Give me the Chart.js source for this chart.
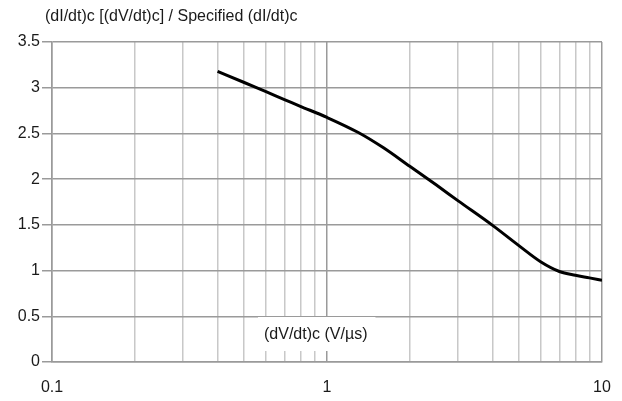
<!DOCTYPE html>
<html>
<head>
<meta charset="utf-8">
<script src="https://cdn.jsdelivr.net/npm/chart.js@4/dist/chart.umd.min.js"></script>
<style>
  html, body { margin: 0; padding: 0; background: #fff; }
  #wrap { width: 622px; height: 401px; }
</style>
</head>
<body>
<div id="wrap"><canvas id="chart" width="622" height="401"></canvas></div>
<script>
// Commutation dI/dt ratio versus (dV/dt)c
const dvdtValues = [0.4, 0.5, 0.6, 0.7, 0.8, 1.0, 1.3, 1.6, 2.0, 2.5, 3.0, 4.0, 5.0, 6.0, 7.0, 8.0, 9.0, 10];
const ratioValues = [3.18, 3.057, 2.956, 2.871, 2.797, 2.675, 2.51, 2.345, 2.14, 1.935, 1.762, 1.494, 1.27, 1.094, 0.99, 0.948, 0.92, 0.894];

const xTickValues = [0.1, 0.2, 0.3, 0.4, 0.5, 0.6, 0.7, 0.8, 0.9, 1, 2, 3, 4, 5, 6, 7, 8, 9, 10];
const xTickLabels = ['0.1', '1', '10'];
const yTickValues = [0, 0.5, 1, 1.5, 2, 2.5, 3, 3.5];

const chartTitle = '(dI/dt)c [(dV/dt)c] / Specified (dI/dt)c';
const xAxisTitle = '(dV/dt)c (V/\u00b5s)';

const FONT = '"Liberation Sans", Arial, sans-serif';
const FONT_SIZE = 16;
const TEXT_COLOR = '#1a1a1a';
const MAJOR_GRID = '#9a9a9a';
const MINOR_GRID = '#c8c8c8';

const points = dvdtValues.map((x, i) => ({ x: x, y: ratioValues[i] }));

// Title above the plot and the x-axis caption set inside the plot on a white box
const labelPlugin = {
  id: 'chartLabels',
  beforeDatasetsDraw(chart) {
    const { ctx, chartArea } = chart;
    ctx.save();
    ctx.font = FONT_SIZE + 'px ' + FONT;
    const tx = chartArea.left + 212;
    const ty = chartArea.bottom - 27;
    const w = ctx.measureText(xAxisTitle).width;
    ctx.fillStyle = '#fff';
    ctx.fillRect(tx - 6, chartArea.bottom - 45, w + 14, 34);
    ctx.fillStyle = TEXT_COLOR;
    ctx.textAlign = 'left';
    ctx.textBaseline = 'middle';
    ctx.fillText(xAxisTitle, tx, ty);
    ctx.restore();
  },
  afterDraw(chart) {
    const { ctx } = chart;
    ctx.save();
    ctx.font = FONT_SIZE + 'px ' + FONT;
    ctx.fillStyle = TEXT_COLOR;
    ctx.textAlign = 'left';
    ctx.textBaseline = 'middle';
    ctx.fillText(chartTitle, 45, 17);
    ctx.restore();
  }
};

new Chart(document.getElementById('chart'), {
  type: 'scatter',
  data: {
    datasets: [{
      data: points,
      showLine: true,
      borderColor: '#000',
      borderWidth: 3,
      pointRadius: 0,
      cubicInterpolationMode: 'monotone',
      fill: false
    }]
  },
  options: {
    responsive: false,
    animation: false,
    layout: { padding: { top: 42, right: 20, left: 0, bottom: 0 } },
    plugins: {
      legend: { display: false },
      tooltip: { enabled: false },
      title: { display: false }
    },
    scales: {
      x: {
        type: 'logarithmic',
        min: 0.1,
        max: 10,
        afterBuildTicks(scale) {
          scale.ticks = xTickValues.map(v => ({ value: v }));
        },
        afterFit(scale) {
          scale.height = 39;
          scale.paddingLeft = 0;
          scale.paddingRight = 0;
        },
        border: { display: true, color: MAJOR_GRID, width: 1.5 },
        grid: {
          drawTicks: false,
          lineWidth: 1.5,
          color(ctx) {
            const v = ctx.tick ? ctx.tick.value : 0;
            return (Math.abs(v - 1) < 1e-9 || Math.abs(v - 10) < 1e-9 || Math.abs(v - 0.1) < 1e-9) ? MAJOR_GRID : MINOR_GRID;
          }
        },
        ticks: {
          autoSkip: false,
          maxRotation: 0,
          padding: 16,
          color: TEXT_COLOR,
          font: { family: FONT, size: FONT_SIZE },
          callback(value) {
            const s = String(Math.round(value * 10) / 10);
            return xTickLabels.includes(s) ? s : '';
          }
        }
      },
      y: {
        type: 'linear',
        min: 0,
        max: 3.5,
        afterBuildTicks(scale) {
          scale.ticks = yTickValues.map(v => ({ value: v }));
        },
        afterFit(scale) { scale.width = 52; },
        border: { display: true, color: MAJOR_GRID, width: 1.5 },
        grid: {
          color: MAJOR_GRID,
          lineWidth: 1.5,
          drawTicks: true,
          tickLength: 10,
          tickColor: MAJOR_GRID
        },
        ticks: {
          padding: 2,
          color: TEXT_COLOR,
          font: { family: FONT, size: FONT_SIZE },
          callback(value) { return String(value); }
        }
      }
    }
  },
  plugins: [labelPlugin]
});
</script>
</body>
</html>
